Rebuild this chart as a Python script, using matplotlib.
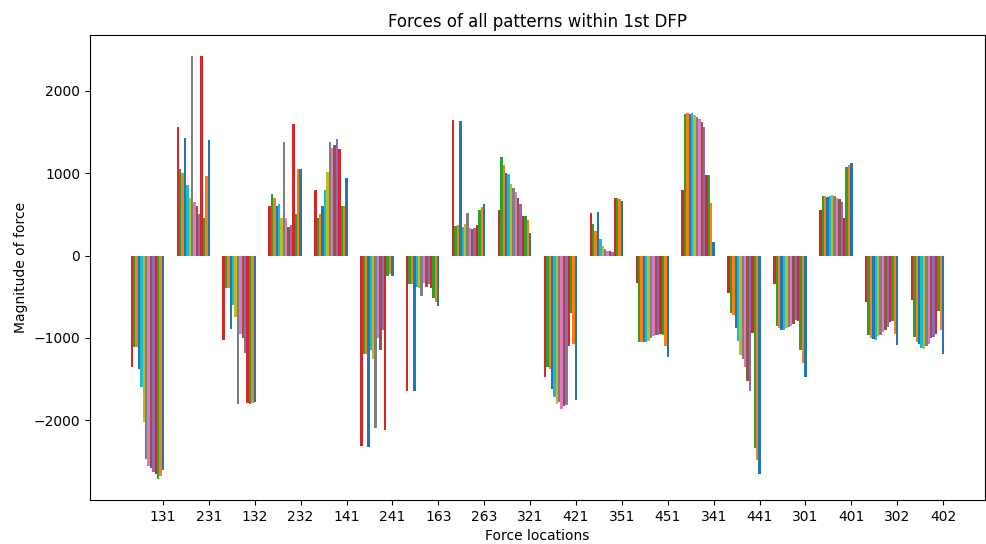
import matplotlib
matplotlib.use("Agg")
import matplotlib.pyplot as plt
import numpy as np

locations = ["131", "231", "132", "232", "141", "241", "163", "263", "321",
             "421", "351", "451", "341", "441", "301", "401", "302", "402"]

# values per location, listed left-to-right as drawn (pattern 14 ... pattern 1)
f131 = [-1350, -1110, -1115, -1375, -1590, -2025, -2470, -2550, -2580, -2625, -2650, -2710, -2675, -2600]
f231 = [1565, 1050, 1000, 1430, 850, 700, 2420, 650, 600, 500, 2420, 450, 960, 1400]
f132 = [-1030, -400, -390, -890, -600, -750, -1800, -950, -1000, -1180, -1785, -1800, -1790, -1780]
f232 = [600, 750, 700, 600, 630, 450, 1375, 450, 350, 370, 1600, 500, 1050, 1050]
f141 = [800, 450, 500, 600, 800, 1010, 1375, 1300, 1340, 1410, 1290, 600, 600, 945]
f241 = [-2310, -1200, -1200, -2320, -1150, -1250, -2090, -1000, -1150, -900, -2120, -250, -220, -245]
f163 = [-1640, -350, -340, -1640, -380, -400, -490, -330, -380, -350, -400, -510, -560, -610]
f263 = [1640, 360, 370, 1630, 350, 380, 510, 330, 320, 330, 370, 550, 590, 620]
f321 = [550, 1190, 1100, 1000, 985, 870, 820, 770, 700, 620, 480, 480, 430, 270]
f421 = [-1480, -1350, -1380, -1620, -1720, -1800, -1780, -1860, -1830, -1810, -1100, -700, -1080, -1750]
f351 = [520, 380, 300, 530, 200, 120, 80, 60, 50, 40, 700, 700, 680, 660]
f451 = [-330, -1050, -1050, -1050, -1050, -1040, -1000, -980, -970, -960, -950, -960, -1100, -1230]
f341 = [790, 1720, 1730, 1720, 1730, 1710, 1680, 1660, 1620, 1560, 980, 980, 640, 160]
f441 = [-450, -700, -720, -880, -1040, -1210, -1250, -1350, -1520, -1640, -940, -2340, -2480, -2650]
f301 = [-350, -860, -880, -900, -900, -880, -870, -850, -830, -780, -800, -1150, -1300, -1470]
f401 = [550, 720, 720, 710, 720, 730, 720, 700, 680, 650, 450, 1080, 1100, 1120]
f302 = [-570, -970, -1000, -1010, -1030, -980, -960, -930, -900, -870, -810, -800, -950, -1090]
f402 = [-545, -990, -1050, -1080, -1120, -1130, -1100, -1070, -1000, -990, -950, -670, -900, -1190]

per_location = [f131, f231, f132, f232, f141, f241, f163, f263, f321,
                 f421, f351, f451, f341, f441, f301, f401, f302, f402]

n_patterns = len(f131)
x = np.arange(len(locations))
w = 0.052

fig = plt.figure(figsize=(9.87, 5.44), dpi=100)
ax = fig.add_axes([0.0912, 0.081, 0.9068, 0.8547])

for j in range(n_patterns):
    heights = [loc[n_patterns - 1 - j] for loc in per_location]
    ax.bar(x - j * w, heights, w)

ax.set_xticks(x)
ax.set_xticklabels(locations)
ax.set_title("Forces of all patterns within 1st DFP")
ax.set_xlabel("Force locations")
ax.set_ylabel("Magnitude of force")

fig.savefig("out.png", dpi=100)
